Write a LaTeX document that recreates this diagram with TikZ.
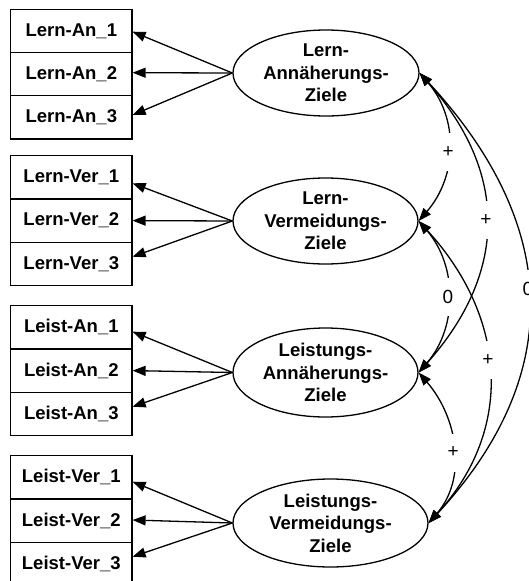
\documentclass[tikz,border=0pt]{standalone}
\usepackage{fontspec}
\setmainfont{Liberation Sans}
\usetikzlibrary{shapes.geometric,arrows.meta}

\begin{document}
\begin{tikzpicture}[
  x=1pt, y=-1pt,
  line width=1.3pt,
  indicator/.style={draw, rectangle, minimum width=121.3pt, minimum height=43.3pt,
    inner sep=0pt, font=\bfseries\fontsize{18.5}{22.5}\selectfont},
  latent/.style={draw, ellipse, inner sep=-28pt, align=center,
    font=\bfseries\fontsize{18.5}{22.5}\selectfont},
  load/.style={-{Triangle[length=13pt,width=10pt]}},
  cov/.style={{Triangle[length=13pt,width=9.5pt]}-{Triangle[length=13pt,width=9.5pt]}},
  covlab/.style={fill=white, inner sep=0pt, minimum width=13pt, minimum height=38pt,
    font=\fontsize{19}{19}\selectfont}
]
\useasboundingbox (0,0) rectangle (529,581);

% indicator blocks
\node[indicator] (l11) at (71.3,30.9)  {Lern-An\_1};
\node[indicator] (l12) at (71.3,74.1)  {Lern-An\_2};
\node[indicator] (l13) at (71.3,117.3) {Lern-An\_3};

\node[indicator] (l21) at (71.3,177.3) {Lern-Ver\_1};
\node[indicator] (l22) at (71.3,220.6) {Lern-Ver\_2};
\node[indicator] (l23) at (71.3,263.9) {Lern-Ver\_3};

\node[indicator] (l31) at (71.3,327.3) {Leist-An\_1};
\node[indicator] (l32) at (71.3,370.6) {Leist-An\_2};
\node[indicator] (l33) at (71.3,413.9) {Leist-An\_3};

\node[indicator] (l41) at (71.3,477.3) {Leist-Ver\_1};
\node[indicator] (l42) at (71.3,520.6) {Leist-Ver\_2};
\node[indicator] (l43) at (71.3,563.9) {Leist-Ver\_3};

% latent factors
\node[latent, minimum width=186pt, minimum height=86pt] (e1) at (326,73)
  {Lern-\\Annäherungs-\\Ziele};
\node[latent, minimum width=185pt, minimum height=86pt] (e2) at (325.5,221)
  {Lern-\\Vermeidungs-\\Ziele};
\node[latent, minimum width=185pt, minimum height=89pt] (e3) at (325.5,372.5)
  {Leistungs-\\Annäherungs-\\Ziele};
\node[latent, minimum width=195pt, minimum height=88pt] (e4) at (330.5,523)
  {Leistungs-\\Vermeidungs-\\Ziele};

% loadings
\draw[load] (e1.west) -- ([yshift=-0.8pt]l11.east);
\draw[load] (e1.west) -- ([yshift=1.4pt]l12.east);
\draw[load] (e1.west) -- ([yshift=2.3pt]l13.east);

\draw[load] (e2.west) -- ([yshift=-6pt]l21.east);
\draw[load] (e2.west) -- (l22.east);
\draw[load] (e2.west) -- ([yshift=7.2pt]l23.east);

\draw[load] (e3.west) -- ([yshift=-4.4pt]l31.east);
\draw[load] (e3.west) -- (l32.east);
\draw[load] (e3.west) -- ([yshift=7.2pt]l33.east);

\draw[load] (e4.west) -- ([yshift=-4.4pt]l41.east);
\draw[load] (e4.west) -- ([yshift=0.6pt]l42.east);
\draw[load] (e4.west) -- ([yshift=7.2pt]l43.east);

% factor covariances
\draw[cov] (e1.east) .. controls +(39,45) and +(39,-45) .. node[covlab, pos=0.53] {+} (e2.east);
\draw[cov] (e1.east) .. controls +(89,100) and +(89,-100) .. node[covlab, pos=0.49] {+} (e3.east);
\draw[cov] (e1.east) .. controls +(139,150) and +(139,-150) .. node[covlab, pos=0.48] {0} (e4.east);
\draw[cov] (e2.east) .. controls +(39,45) and +(39,-45) .. node[covlab, pos=0.5] {0} (e3.east);
\draw[cov] (e2.east) .. controls +(87,95) and +(87,-95) .. node[covlab, pos=0.46] {+} (e4.east);
\draw[cov] (e3.east) .. controls +(39,45) and +(39,-45) .. node[covlab, pos=0.53] {+} (e4.east);
\end{tikzpicture}
\end{document}
